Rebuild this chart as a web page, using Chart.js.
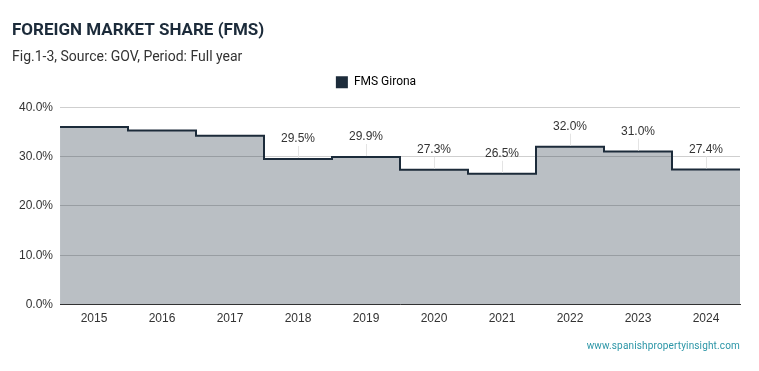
<!DOCTYPE html>
<html>
<head>
<meta charset="utf-8">
<script src="https://cdn.jsdelivr.net/npm/chart.js@4/dist/chart.umd.min.js"></script>
<style>
  html, body { margin: 0; padding: 0; background: #fff; }
  #wrap { position: relative; width: 759px; height: 371px; }
  #footer {
    position: absolute; right: 19px; top: 340px;
    font: 10px Roboto, sans-serif; color: #2a95a6; letter-spacing: 0.15px;
  }
</style>
</head>
<body>
<div id="wrap">
  <canvas id="chart" width="759" height="371"></canvas>
  <div id="footer">www.spanishpropertyinsight.com</div>
</div>
<script>
"use strict";

// ── DATA ────────────────────────────────────
const years      = [2015, 2016, 2017, 2018, 2019, 2020, 2021, 2022, 2023, 2024];
const fmsGirona  = [36.0, 35.3, 34.2, 29.5, 29.9, 27.3, 26.5, 32.0, 31.0, 27.4];
const labelYears = [2018, 2019, 2020, 2021, 2022, 2023, 2024];
const yTicks     = [0, 10, 20, 30, 40];

const NAVY = "#1c2b3a";
const FONT = "Roboto, sans-serif";
const TICK_FONT = "'Liberation Sans', Arial, sans-serif";

// points, with the first / last value held to the plot edges
const pts = years.map((y, i) => ({ x: y, y: fmsGirona[i] }));
pts.unshift({ x: years[0] - 0.5, y: fmsGirona[0] });
pts.push({ x: years[years.length - 1] + 0.5, y: fmsGirona[fmsGirona.length - 1] });

// ── extra space under the legend ────────────
const legendGap = {
  id: "legendGap",
  beforeInit(chart) {
    const fit = chart.legend.fit;
    chart.legend.fit = function () {
      fit.bind(chart.legend)();
      this.height += 9;
    };
  }
};

// ── value labels with a thin leader line ────
const valueLabels = {
  id: "valueLabels",
  afterDatasetsDraw(chart) {
    const { ctx, scales } = chart;
    ctx.save();
    ctx.font = "12px " + TICK_FONT;
    ctx.textAlign = "center";
    ctx.textBaseline = "middle";
    labelYears.forEach(yr => {
      const i = years.indexOf(yr);
      const x = scales.x.getPixelForValue(yr);
      const y = scales.y.getPixelForValue(fmsGirona[i]);
      ctx.strokeStyle = "#e4e4e4";
      ctx.lineWidth = 1;
      ctx.beginPath();
      ctx.moveTo(Math.round(x) + 0.5, y - 13);
      ctx.lineTo(Math.round(x) + 0.5, y - 1);
      ctx.stroke();
      ctx.fillStyle = "#333";
      ctx.fillText(fmsGirona[i].toFixed(1) + "%", x, y - 20);
    });
    ctx.restore();
  }
};

new Chart(document.getElementById("chart"), {
  type: "line",
  data: {
    datasets: [{
      label: "FMS Girona",
      data: pts,
      stepped: "middle",
      borderColor: NAVY,
      borderWidth: 2,
      backgroundColor: "rgba(28,43,58,0.3)",
      fill: "origin",
      pointRadius: 0
    }]
  },
  options: {
    responsive: false,
    animation: false,
    layout: { padding: { top: 15, left: 12, right: 19, bottom: 38 } },
    scales: {
      x: {
        type: "linear",
        min: years[0] - 0.5,
        max: years[years.length - 1] + 0.5,
        afterBuildTicks: ax => { ax.ticks = years.map(v => ({ value: v })); },
        grid: { display: false, drawTicks: false, tickLength: 0 },
        border: { display: true, color: "#333", width: 1 },
        ticks: { color: "#333", font: { family: TICK_FONT, size: 12 }, padding: 7,
                 callback: v => String(v) }
      },
      y: {
        min: 0, max: 40,
        afterBuildTicks: ax => { ax.ticks = yTicks.map(v => ({ value: v })); },
        grid: { color: "#cfcfcf", drawTicks: false },
        border: { display: false },
        ticks: { color: "#333", font: { family: TICK_FONT, size: 12 }, padding: 7,
                 callback: v => v.toFixed(1) + "%" }
      }
    },
    plugins: {
      title: {
        display: true, align: "start",
        text: "FOREIGN MARKET SHARE (FMS)",
        color: NAVY, font: { family: FONT, size: 17, weight: "bold" },
        padding: { top: 6, bottom: 6 }
      },
      subtitle: {
        display: true, align: "start",
        text: "Fig.1-3, Source: GOV, Period: Full year",
        color: "#333", font: { family: FONT, size: 14 },
        padding: { top: 2, bottom: 0 }
      },
      legend: {
        display: true,
        labels: { color: "#333", font: { family: FONT, size: 12 },
                  boxWidth: 12, boxHeight: 12, padding: 10,
                  generateLabels: chart => [{
                    text: "FMS Girona", fillStyle: NAVY, strokeStyle: NAVY,
                    lineWidth: 0, datasetIndex: 0
                  }] }
      },
      tooltip: { enabled: false }
    }
  },
  plugins: [legendGap, valueLabels]
});
</script>
</body>
</html>
